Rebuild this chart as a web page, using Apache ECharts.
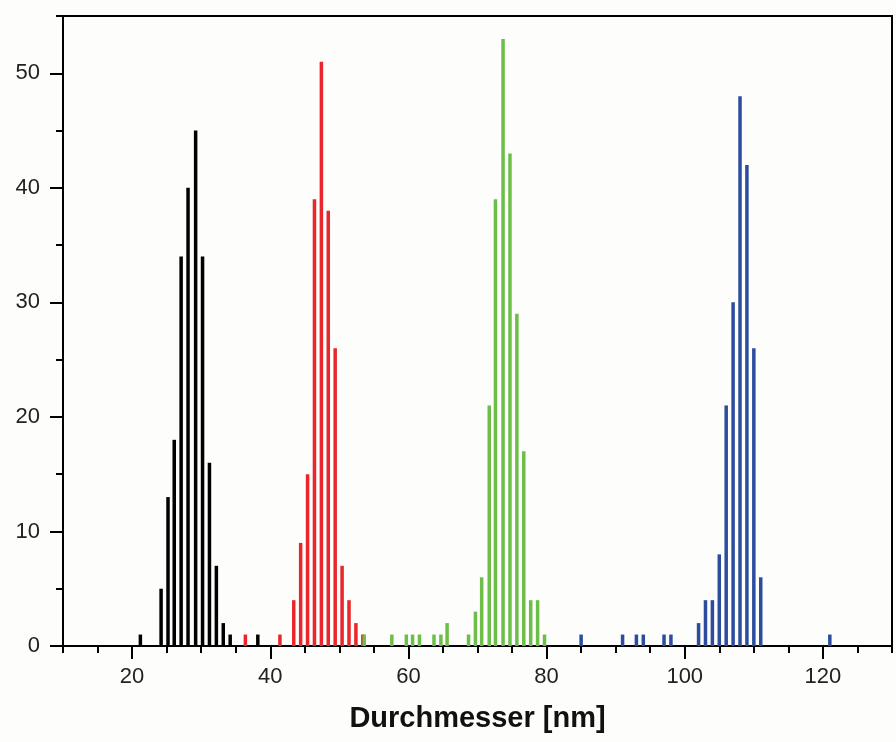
<!DOCTYPE html>
<html>
<head>
<meta charset="utf-8">
<script src="https://cdn.jsdelivr.net/npm/echarts@6/dist/echarts.min.js"></script>
<style>
  html, body { margin: 0; padding: 0; background: #fdfdfb; }
  #main { width: 896px; height: 742px; }
</style>
</head>
<body>
<div id="main"></div>
<script>
// diameter positions (nm) and counts
var blackX = [21.2, 24.2, 25.2, 26.1, 27.1, 28.1, 29.2, 30.2, 31.2, 32.2, 33.2, 34.2, 38.2];
var blackY = [1, 5, 13, 18, 34, 40, 45, 34, 16, 7, 2, 1, 1];
var redX = [36.4, 41.4, 43.4, 44.4, 45.4, 46.4, 47.4, 48.4, 49.4, 50.4, 51.4, 52.4, 53.4];
var redY = [1, 1, 4, 9, 15, 39, 51, 38, 26, 7, 4, 2, 1];
var greenX = [53.6, 57.6, 59.7, 60.6, 61.6, 63.7, 64.7, 65.6, 68.7, 69.7, 70.6, 71.7, 72.6, 73.7, 74.7, 75.7, 76.7, 77.7, 78.7, 79.7];
var greenY = [1, 1, 1, 1, 1, 1, 1, 2, 1, 3, 6, 21, 39, 53, 43, 29, 17, 4, 4, 1];
var blueX = [85, 91, 93, 94, 97, 98, 102, 103, 104, 105, 106, 107, 108, 109, 110, 111, 121];
var blueY = [1, 1, 1, 1, 1, 1, 2, 4, 4, 8, 21, 30, 48, 42, 26, 6, 1];

var xMajor = [20, 40, 60, 80, 100, 120];
var xMinor = [10, 15, 25, 30, 35, 45, 50, 55, 65, 70, 75, 85, 90, 95, 105, 110, 115, 125, 130];
var yMajor = [0, 10, 20, 30, 40, 50];
var yMinor = [5, 15, 25, 35, 45, 55];

var font = "Liberation Sans, Arial, sans-serif";

function pairs(xs, ys) {
  return xs.map((x, i) => [x, ys[i]]);
}

function barSeries(xs, ys, color) {
  return {
    type: "bar",
    data: pairs(xs, ys),
    barWidth: 3.5,
    barGap: "-100%",
    itemStyle: { color: color },
    silent: true
  };
}

var myChart = echarts.init(document.getElementById("main"));
var option = {
  backgroundColor: "#fdfdfb",
  animation: false,
  grid: {
    left: 63,
    right: 4,
    top: 16,
    bottom: 96,
    show: true,
    borderColor: "#000",
    borderWidth: 2,
    backgroundColor: "transparent"
  },
  xAxis: [
    {
      type: "value",
      min: 10,
      max: 130,
      name: "Durchmesser [nm]",
      nameLocation: "middle",
      nameGap: 58,
      nameTextStyle: { fontFamily: font, fontSize: 29, fontWeight: "bold", color: "#111" },
      axisLine: { show: true, lineStyle: { color: "#000", width: 2 } },
      axisTick: { show: true, customValues: xMajor, length: 13, lineStyle: { color: "#000", width: 2 } },
      axisLabel: { customValues: xMajor, fontFamily: font, fontSize: 22, color: "#222", margin: 20 },
      splitLine: { show: false }
    },
    {
      type: "value",
      min: 10,
      max: 130,
      position: "bottom",
      axisLine: { show: false },
      axisTick: { show: true, customValues: xMinor, length: 7, lineStyle: { color: "#000", width: 2 } },
      axisLabel: { show: false },
      splitLine: { show: false }
    }
  ],
  yAxis: [
    {
      type: "value",
      min: 0,
      max: 55,
      axisLine: { show: true, lineStyle: { color: "#000", width: 2 } },
      axisTick: { show: true, customValues: yMajor, length: 13, lineStyle: { color: "#000", width: 2 } },
      axisLabel: { customValues: yMajor, fontFamily: font, fontSize: 22, color: "#222", margin: 23 },
      splitLine: { show: false }
    },
    {
      type: "value",
      min: 0,
      max: 55,
      position: "left",
      axisLine: { show: false },
      axisTick: { show: true, customValues: yMinor, length: 7, lineStyle: { color: "#000", width: 2 } },
      axisLabel: { show: false },
      splitLine: { show: false }
    }
  ],
  series: [
    barSeries(blackX, blackY, "#000000"),
    barSeries(redX, redY, "#e8262b"),
    barSeries(greenX, greenY, "#6cbe48"),
    barSeries(blueX, blueY, "#2c4c9e")
  ]
};
myChart.setOption(option);
</script>
</body>
</html>
